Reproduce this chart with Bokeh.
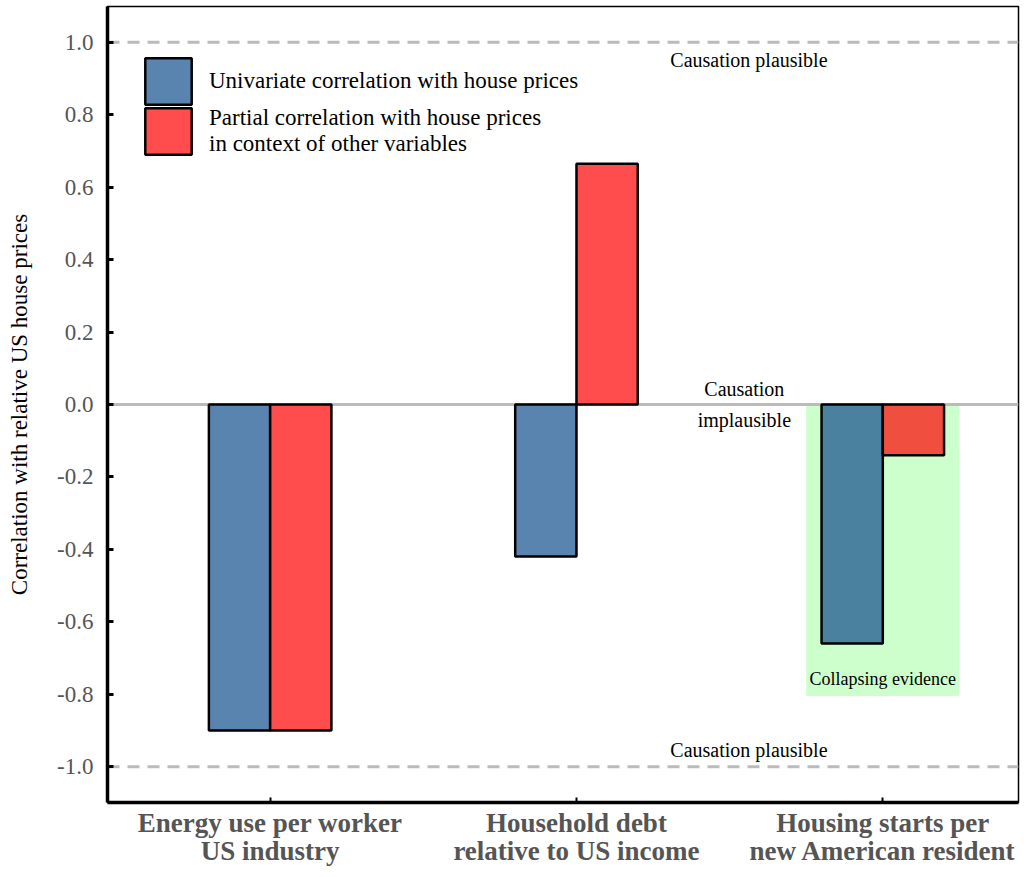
from bokeh.plotting import figure
from bokeh.models import (ColumnDataSource, Span, BoxAnnotation, FixedTicker,
                          NumeralTickFormatter, Legend, LegendItem)
from bokeh.core.properties import value
from bokeh.embed import file_html
from bokeh.resources import INLINE

# ---- data ----
categories = ["Energy use per worker\nUS industry",
              "Household debt\nrelative to US income",
              "Housing starts per\nnew American resident"]
cat_pos = [0, 1, 2]
univariate = [-0.90, -0.42, -0.66]
partial = [-0.90, 0.665, -0.14]
univariate_colors = ["#5A84B0", "#5A84B0", "#4A819E"]
partial_colors = ["#FF4C4C", "#FF4C4C", "#F04F40"]
y_ticks = [-1.0, -0.8, -0.6, -0.4, -0.2, 0.0, 0.2, 0.4, 0.6, 0.8, 1.0]
legend_labels = ["Univariate correlation with house prices",
                 "Partial correlation with house prices\nin context of other variables"]

# annotation texts
plaus_text = ["Causation plausible", "Causation plausible", "Causation\nimplausible"]
plaus_x = [1.563, 1.563, 1.548]
plaus_y = [0.95, -0.953, 0.0]
collapse_text = ["Collapsing evidence"]
collapse_x = [2.0]
collapse_y = [-0.757]
collapse_box = dict(left=1.75, right=2.25, top=0.0, bottom=-0.805)

bar_w = 0.2
SERIF = "Liberation Serif"

p = figure(width=1020, height=869, output_backend="svg", toolbar_location=None,
           x_range=(-0.531, 2.443), y_range=(-1.099, 1.099),
           min_border_left=107, min_border_right=2, min_border_top=6,
           min_border_bottom=56)

p.xgrid.visible = False
p.ygrid.visible = False
p.outline_line_color = "black"
p.outline_line_width = 1.5
p.background_fill_color = "white"
p.border_fill_color = "white"

# green region
p.add_layout(BoxAnnotation(left=collapse_box["left"], right=collapse_box["right"],
                           top=collapse_box["top"], bottom=collapse_box["bottom"],
                           fill_color="#CCFFCC", fill_alpha=1.0, line_alpha=0,
                           level="underlay"))

# reference lines
for yv in [1.0, -1.0]:
    p.add_layout(Span(location=yv, dimension="width", line_color="#BBBBBB",
                      line_width=3, line_dash="12 8", level="underlay"))
p.add_layout(Span(location=0.0, dimension="width", line_color="#BBBBBB",
                  line_width=3, level="underlay"))

src_u = ColumnDataSource(dict(x=[c - bar_w / 2 for c in cat_pos], top=univariate,
                              color=univariate_colors))
src_p = ColumnDataSource(dict(x=[c + bar_w / 2 for c in cat_pos], top=partial,
                              color=partial_colors))

r_u = p.vbar(x="x", top="top", bottom=0, width=bar_w, source=src_u,
             fill_color="color", line_color="black", line_width=2.5)
r_p = p.vbar(x="x", top="top", bottom=0, width=bar_w, source=src_p,
             fill_color="color", line_color="black", line_width=2.5)

# annotation texts
p.text(x=plaus_x, y=plaus_y, text=plaus_text, text_font=value(SERIF),
       text_font_size="20px", text_align="center", text_baseline="middle",
       text_color="black", text_line_height=1.45)
p.text(x=collapse_x, y=collapse_y, text=collapse_text, text_font=value(SERIF),
       text_font_size="18px", text_align="center", text_baseline="middle",
       text_color="black")

# axes
p.yaxis.ticker = FixedTicker(ticks=y_ticks)
p.yaxis.formatter = NumeralTickFormatter(format="0.0")
p.yaxis.major_label_text_font = SERIF
p.yaxis.major_label_text_font_size = "23px"
p.yaxis.major_label_text_color = "#555555"
p.yaxis.major_tick_in = 6
p.yaxis.major_tick_out = 0
p.yaxis.minor_tick_line_color = None
p.yaxis.axis_line_width = 3.5
p.yaxis.major_tick_line_width = 3
p.yaxis.major_label_standoff = 14
p.yaxis.axis_label = "Correlation with relative US house prices"
p.yaxis.axis_label_text_font = SERIF
p.yaxis.axis_label_text_font_size = "23px"
p.yaxis.axis_label_text_font_style = "normal"
p.yaxis.axis_label_text_color = "black"
p.yaxis.axis_label_standoff = 22

p.xaxis.ticker = FixedTicker(ticks=cat_pos)
p.xaxis.major_label_overrides = {c: lab for c, lab in zip(cat_pos, categories)}
p.xaxis.major_label_text_font = SERIF
p.xaxis.major_label_text_font_size = "27px"
p.xaxis.major_label_text_font_style = "bold"
p.xaxis.major_label_text_color = "#555555"
p.xaxis.major_label_text_line_height = 0.95
p.xaxis.major_tick_in = 5
p.xaxis.major_tick_out = 0
p.xaxis.minor_tick_line_color = None
p.xaxis.axis_line_width = 3.5
p.xaxis.major_tick_line_width = 2
p.xaxis.major_label_standoff = 5


def make_legend(label, renderer, y):
    lg = Legend(items=[LegendItem(label=label, renderers=[renderer])],
                location=(32, y))
    lg.glyph_width = 58
    lg.glyph_height = 58
    lg.padding = 0
    lg.margin = 0
    lg.spacing = 0
    lg.label_standoff = 12
    lg.label_text_font = SERIF
    lg.label_text_font_size = "23px"
    lg.label_text_color = "black"
    lg.label_text_line_height = 1.1
    lg.border_line_alpha = 0
    lg.background_fill_alpha = 0
    return lg


p.add_layout(make_legend(legend_labels[0], r_u, 692))
p.add_layout(make_legend(legend_labels[1], r_p, 642))

open("out.html", "w").write(file_html(p, INLINE))
